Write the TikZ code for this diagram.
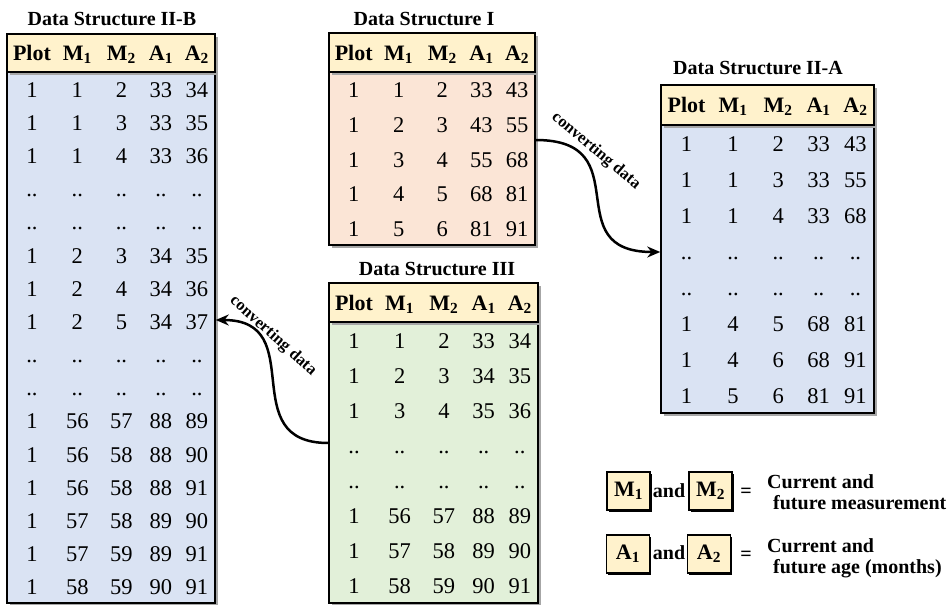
\documentclass[tikz,border=0pt]{standalone}
\usepackage{fontspec}
\setmainfont{Liberation Serif}
\usetikzlibrary{arrows.meta, fit, shadows, positioning}
\definecolor{dsCream}{HTML}{FFF2CC}
\definecolor{dsPeach}{HTML}{FBE5D6}
\definecolor{dsBlue}{HTML}{DAE3F3}
\definecolor{dsGreen}{HTML}{E2F0D9}
\definecolor{dsShade}{HTML}{A6A6A6}
\tikzset{
  % table frames get a light grey shadow on the right and bottom
  headbox/.style  = {draw, line width=2pt, fill=dsCream, inner sep=0pt,
                     drop shadow={shadow xshift=2.5pt, shadow yshift=-2.5pt,
                                  fill=dsShade, opacity=1}},
  bodybox/.style  = {draw, line width=1.5pt, inner sep=0pt,
                     drop shadow={shadow xshift=2.5pt, shadow yshift=-2.5pt,
                                  fill=dsShade, opacity=1}},
  headcell/.style = {font=\fontsize{22}{24}\selectfont\bfseries, inner sep=0pt,
                     text height=15pt, text depth=0pt},
  cell/.style     = {font=\fontsize{22.5}{24}\selectfont, inner sep=0pt,
                     text height=15pt, text depth=0pt},
  dstitle/.style  = {font=\fontsize{20}{22}\selectfont\bfseries, inner sep=0pt},
  convert/.style  = {line width=2.5pt, -{Stealth[length=13pt, width=11pt]}},
  convlbl/.style  = {font=\fontsize{16.5}{18}\selectfont\bfseries, inner sep=0pt},
  keybox/.style   = {draw, line width=1.5pt, fill=dsCream, inner sep=0pt,
                     minimum width=43pt, minimum height=38pt,
                     font=\fontsize{22}{24}\selectfont\bfseries,
                     drop shadow={shadow xshift=1.5pt, shadow yshift=-1.5pt,
                                  fill=black, opacity=1}},
  keytext/.style  = {font=\fontsize{20}{22}\selectfont\bfseries, inner sep=0pt},
}
% #1 name, #2/#3 left/right, #4 top, #5 header bottom, #6 bottom,
% #7 body colour, #8 number of rows, #9 rows
\newcommand{\dstable}[9]{%
  \node[bodybox, fill=#7, fit={(#2,#5) (#3,#6)}] (#1-body) {};
  \node[headbox, fit={(#2,#4) (#3,#5)}] (#1-head) {};
  \foreach \h [count=\c] in {Plot, M\textsubscript{1}, M\textsubscript{2},
                             A\textsubscript{1}, A\textsubscript{2}} {
    \pgfmathsetmacro\cf{{0.12,0.338,0.55,0.74,0.913}[\c-1]}
    \pgfmathsetmacro\cx{#2+(#3-#2)*\cf}
    \node[headcell] (#1-h\c) at (\cx, {(#4+#5)/2}) {\h};
  }
  \foreach \row [count=\r] in {#9} {
    \foreach \v [count=\c] in \row {
      \pgfmathsetmacro\cf{{0.12,0.338,0.55,0.74,0.913}[\c-1]}
      \pgfmathsetmacro\cx{#2+(#3-#2)*\cf}
      \pgfmathsetmacro\cy{#5+(\r-0.5)*(#6-#5)/#8+1}
      \node[cell] (#1-\r-\c) at (\cx,\cy) {\v};
    }
  }
}

\begin{document}
\begin{tikzpicture}[x=1pt, y=-1pt]
  \useasboundingbox (0,0) rectangle (951,605);

  % the four data structures
  \node[dstitle] (IIB-title) at (112,19) {Data Structure II-B};
  \dstable{IIB}{7}{215}{34}{72}{603}{dsBlue}{16}{%
    {1,1,2,33,34},{1,1,3,33,35},{1,1,4,33,36},{..,..,..,..,..},{..,..,..,..,..},
    {1,2,3,34,35},{1,2,4,34,36},{1,2,5,34,37},{..,..,..,..,..},{..,..,..,..,..},
    {1,56,57,88,89},{1,56,58,88,90},{1,56,58,88,91},{1,57,58,89,90},
    {1,57,59,89,91},{1,58,59,90,91}}

  \node[dstitle] (I-title) at (424,19) {Data Structure I};
  \dstable{I}{329}{535}{33}{72}{245}{dsPeach}{5}{%
    {1,1,2,33,43},{1,2,3,43,55},{1,3,4,55,68},{1,4,5,68,81},{1,5,6,81,91}}

  \node[dstitle] (IIA-title) at (758,68) {Data Structure II-A};
  \dstable{IIA}{661}{874}{85}{125}{413}{dsBlue}{8}{%
    {1,1,2,33,43},{1,1,3,33,55},{1,1,4,33,68},{..,..,..,..,..},{..,..,..,..,..},
    {1,4,5,68,81},{1,4,6,68,91},{1,5,6,81,91}}

  \node[dstitle] (III-title) at (437,269) {Data Structure III};
  \dstable{III}{329}{538}{283}{322}{603}{dsGreen}{8}{%
    {1,1,2,33,34},{1,2,3,34,35},{1,3,4,35,36},{..,..,..,..,..},{..,..,..,..,..},
    {1,56,57,88,89},{1,57,58,89,90},{1,58,59,90,91}}

  % conversions
  \draw[convert] ([yshift=18.5pt]I-body.east) .. controls +(105,0) and +(-105,0)
    .. ([yshift=17pt]IIA-body.west);
  \node[convlbl, rotate=-40] (conv-a) at (596,151) {converting data};
  \draw[convert] ([yshift=19.5pt]III-body.west) .. controls +(-95,0) and +(95,0)
    .. ([yshift=17.5pt]IIB-body.east);
  \node[convlbl, rotate=-42] (conv-b) at (273,336) {converting data};

  % key
  \node[keybox] (key-m1) at (628.5,491) {M\textsubscript{1}};
  \node[keytext] (key-and1) at (669,491) {and};
  \node[keybox] (key-m2) at (710.5,491) {M\textsubscript{2}};
  \node[keytext] (key-eq1) at (746,493) {=};
  \node[keytext, anchor=base west] (key-def1a) at (767,488) {Current and};
  \node[keytext, anchor=base west] (key-def1b) at (773,509) {future measurement};

  \node[keybox] (key-a1) at (628,554) {A\textsubscript{1}};
  \node[keytext] (key-and2) at (669,553) {and};
  \node[keybox] (key-a2) at (709,554) {A\textsubscript{2}};
  \node[keytext] (key-eq2) at (746,556) {=};
  \node[keytext, anchor=base west] (key-def2a) at (767,552) {Current and};
  \node[keytext, anchor=base west] (key-def2b) at (773,573) {future age (months)};
\end{tikzpicture}
\end{document}
